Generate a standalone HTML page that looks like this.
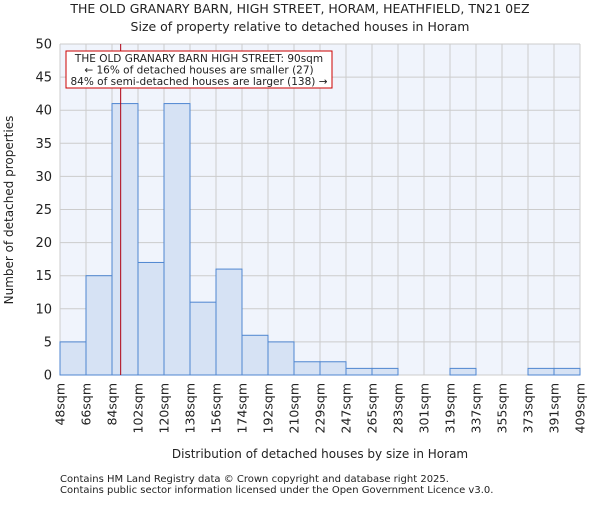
<!DOCTYPE html>
<html><head><meta charset="utf-8"><style>
body{margin:0;background:#fff}
svg text{font-family:"DejaVu Sans","Liberation Sans",sans-serif;fill:#222}
</style></head><body>
<svg width="600" height="500" xmlns="http://www.w3.org/2000/svg">
<text x="300" y="13" font-size="12.5" text-anchor="middle">THE OLD GRANARY BARN, HIGH STREET, HORAM, HEATHFIELD, TN21 0EZ</text>
<text x="300" y="31" font-size="12.5" text-anchor="middle">Size of property relative to detached houses in Horam</text>
<rect x="60" y="44" width="520" height="331" fill="#f0f4fc"/>
<g id="grid"></g><g id="bars"></g><g id="axes"></g>
<text x="320" y="458" font-size="12" text-anchor="middle">Distribution of detached houses by size in Horam</text>
<text transform="translate(13,210) rotate(-90)" font-size="12" text-anchor="middle">Number of detached properties</text>
<line id="marker" y1="44" y2="375" stroke="#b00010" stroke-width="1"/>
<g>
<rect x="66" y="51" width="266" height="37" fill="#fff" stroke="#cc0000" stroke-width="1"/>
<text x="199" y="62" font-size="10.5" text-anchor="middle">THE OLD GRANARY BARN HIGH STREET: 90sqm</text>
<text x="199" y="73.5" font-size="10.5" text-anchor="middle">← 16% of detached houses are smaller (27)</text>
<text x="199" y="85" font-size="10.5" text-anchor="middle">84% of semi-detached houses are larger (138) →</text>
</g>
<text x="60" y="482" font-size="10" fill="#555">Contains HM Land Registry data © Crown copyright and database right 2025.</text>
<text x="60" y="493" font-size="10" fill="#555">Contains public sector information licensed under the Open Government Licence v3.0.</text>
</svg>
<script>
const binLabels=["48sqm","66sqm","84sqm","102sqm","120sqm","138sqm","156sqm","174sqm","192sqm","210sqm","229sqm","247sqm","265sqm","283sqm","301sqm","319sqm","337sqm","355sqm","373sqm","391sqm","409sqm"];
const counts=[5,15,41,17,41,11,16,6,5,2,2,1,1,0,0,1,0,0,1,1];
const yTicks=[0,5,10,15,20,25,30,35,40,45,50];
const markerValue=90;
const NS="http://www.w3.org/2000/svg";
const x0=60,x1=580,yTop=44,yBot=375,yMax=50;
const bw=(x1-x0)/counts.length;
const xs=i=>x0+i*bw;
const ys=v=>yBot-v/yMax*(yBot-yTop);
const xv=v=>x0+(v-48)/18*bw;
function mk(t,a,p){const e=document.createElementNS(NS,t);for(const k in a)e.setAttribute(k,a[k]);p.appendChild(e);return e;}
const grid=document.getElementById('grid'),bars=document.getElementById('bars'),axes=document.getElementById('axes');
yTicks.forEach(v=>{
 const l=mk('line',{x1:x0,x2:x1,y1:ys(v),y2:ys(v),stroke:'#cccccc'},grid);
 
 
 const t=mk('text',{x:x0-8,y:ys(v)+4.5,'font-size':13,'text-anchor':'end'},axes);
 t.textContent=v;
 
 
});
binLabels.forEach((s,i)=>{
 const l=mk('line',{x1:xs(i),x2:xs(i),y1:yTop,y2:yBot,stroke:'#cccccc'},grid);
 
 
 const t=mk('text',{transform:`translate(${xs(i)+4.5},${yBot+8}) rotate(-90)`,'font-size':12.5,'text-anchor':'end'},axes);
 t.textContent=s;
 
 
});
counts.forEach((c,i)=>{
 if(c<=0)return;
 const r=mk('rect',{x:xs(i),y:ys(c),width:bw,height:yBot-ys(c),fill:'#d6e2f4',stroke:'#4f86d0','stroke-width':1},bars);
 
 
});
const m=document.getElementById('marker');m.setAttribute('x1',xv(markerValue));m.setAttribute('x2',xv(markerValue));
</script>
</body></html>
